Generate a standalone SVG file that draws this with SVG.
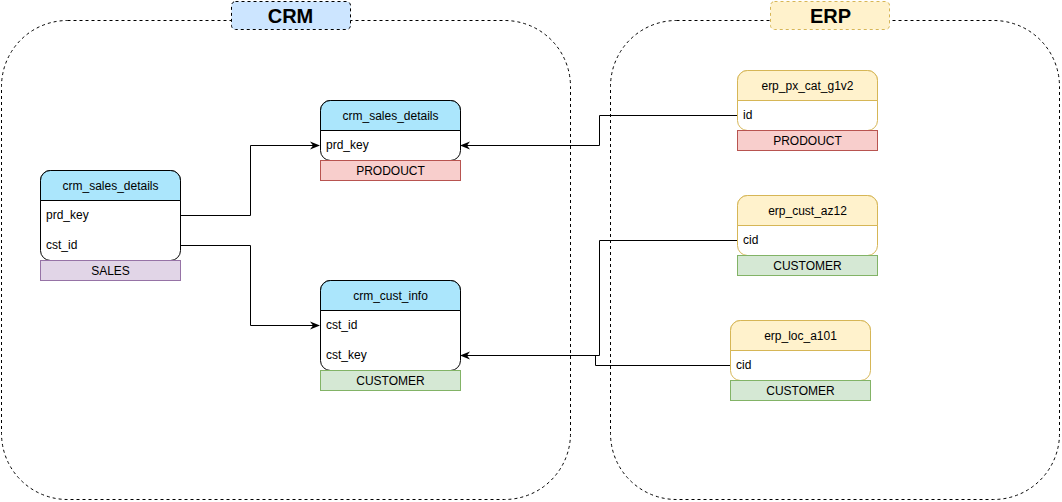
<svg xmlns="http://www.w3.org/2000/svg" width="1062" height="502" viewBox="0 0 1062 502">
<defs>
<style>
text{font-family:"Liberation Sans",Arial,sans-serif;font-size:12px;fill:#000}
.c{text-anchor:middle}
.cont{fill:none;stroke:#000;stroke-dasharray:3 3;stroke-width:1}
.body{fill:#fff;stroke:#000}
.bodyE{fill:#fff;stroke:#d6b656}
.hC{fill:#abe6fc;stroke:#000}
.hE{fill:#fff2cc;stroke:#d6b656}
.red{fill:#f8cecc;stroke:#b85450}
.grn{fill:#d5e8d4;stroke:#82b366}
.pur{fill:#e1d5e7;stroke:#9673a6}
.edge{fill:none;stroke:#000;stroke-width:1}
.title{font-size:20px;font-weight:bold}
</style>
<marker id="arr" viewBox="0 0 10 10" refX="9" refY="5" markerWidth="10" markerHeight="10" markerUnits="userSpaceOnUse" orient="auto">
<path d="M0,1 L10,5 L0,9 L3,5 Z" fill="#000"/>
</marker>
</defs>
<rect width="1062" height="502" fill="#fff"/>
<g id="crm-container">
<rect class="cont" x="1.5" y="20.5" width="569" height="479" rx="66" ry="66"/>
<rect x="231.5" y="1.5" width="119" height="28" rx="4" fill="#cce5ff" stroke="#000" stroke-dasharray="3 3"/>
<text class="c title" x="290.5" y="23">CRM</text>
</g>
<g id="erp-container">
<rect class="cont" x="610.5" y="20.5" width="449" height="479" rx="66" ry="66"/>
<rect x="770.5" y="1.5" width="119" height="28" rx="4" fill="#fff2cc" stroke="#d6b656" stroke-dasharray="3 3"/>
<text class="c title" x="830.5" y="23">ERP</text>
</g>
<g id="connectors">
<path class="edge" d="M180.5,215.5 H250.5 V145.5 H319" marker-end="url(#arr)"/>
<path class="edge" d="M180.5,245.5 H250.5 V325.5 H319" marker-end="url(#arr)"/>
<path class="edge" d="M737.5,115.5 H599.5 V145.5 H461" marker-end="url(#arr)"/>
<path class="edge" d="M737.5,240.5 H599.5 V355.5 H461" marker-end="url(#arr)"/>
<path class="edge" d="M730.5,365.5 H595.5 V355.5 H461"/>
</g>
<g id="sales-left">
<rect class="body" x="40.5" y="170.5" width="140" height="90" rx="10"/>
<path class="hC" d="M40.5,200.5 V180.5 A10,10 0 0 1 50.5,170.5 H170.5 A10,10 0 0 1 180.5,180.5 V200.5 Z"/>
<text class="c" x="110.5" y="190">crm_sales_details</text>
<text x="46" y="219">prd_key</text>
<text x="46" y="249">cst_id</text>
<rect class="pur" x="40.5" y="260.5" width="140" height="20"/>
<text class="c" x="110.5" y="275">SALES</text>
</g>
<g id="sales-mid">
<rect class="body" x="320.5" y="100.5" width="140" height="60" rx="10"/>
<path class="hC" d="M320.5,130.5 V110.5 A10,10 0 0 1 330.5,100.5 H450.5 A10,10 0 0 1 460.5,110.5 V130.5 Z"/>
<text class="c" x="390.5" y="120">crm_sales_details</text>
<text x="326" y="149">prd_key</text>
<rect class="red" x="320.5" y="160.5" width="140" height="20"/>
<text class="c" x="390.5" y="175">PRODOUCT</text>
</g>
<g id="cust-info">
<rect class="body" x="320.5" y="280.5" width="140" height="90" rx="10"/>
<path class="hC" d="M320.5,310.5 V290.5 A10,10 0 0 1 330.5,280.5 H450.5 A10,10 0 0 1 460.5,290.5 V310.5 Z"/>
<text class="c" x="390.5" y="300">crm_cust_info</text>
<text x="326" y="329">cst_id</text>
<text x="326" y="359">cst_key</text>
<rect class="grn" x="320.5" y="370.5" width="140" height="20"/>
<text class="c" x="390.5" y="385">CUSTOMER</text>
</g>
<g id="erp-px">
<rect class="bodyE" x="737.5" y="70.5" width="140" height="60" rx="10"/>
<path class="hE" d="M737.5,100.5 V80.5 A10,10 0 0 1 747.5,70.5 H867.5 A10,10 0 0 1 877.5,80.5 V100.5 Z"/>
<text class="c" x="807.5" y="90">erp_px_cat_g1v2</text>
<text x="743" y="119">id</text>
<rect class="red" x="737.5" y="130.5" width="140" height="20"/>
<text class="c" x="807.5" y="145">PRODOUCT</text>
</g>
<g id="erp-cust">
<rect class="bodyE" x="737.5" y="195.5" width="140" height="60" rx="10"/>
<path class="hE" d="M737.5,225.5 V205.5 A10,10 0 0 1 747.5,195.5 H867.5 A10,10 0 0 1 877.5,205.5 V225.5 Z"/>
<text class="c" x="807.5" y="215">erp_cust_az12</text>
<text x="743" y="244">cid</text>
<rect class="grn" x="737.5" y="255.5" width="140" height="20"/>
<text class="c" x="807.5" y="270">CUSTOMER</text>
</g>
<g id="erp-loc">
<rect class="bodyE" x="730.5" y="320.5" width="140" height="60" rx="10"/>
<path class="hE" d="M730.5,350.5 V330.5 A10,10 0 0 1 740.5,320.5 H860.5 A10,10 0 0 1 870.5,330.5 V350.5 Z"/>
<text class="c" x="800.5" y="340">erp_loc_a101</text>
<text x="736" y="369">cid</text>
<rect class="grn" x="730.5" y="380.5" width="140" height="20"/>
<text class="c" x="800.5" y="395">CUSTOMER</text>
</g>
</svg>
